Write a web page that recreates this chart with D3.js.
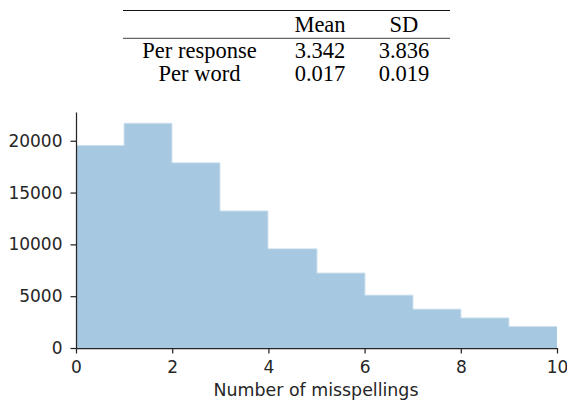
<!DOCTYPE html>
<html><head><meta charset="utf-8">
<script src="https://cdn.jsdelivr.net/npm/d3@7"></script>
<style>body{margin:0;background:#fff}svg{display:block}</style>
</head><body>
<script>
// Data
const binEdges = [0,1,2,3,4,5,6,7,8,9,10];
const counts = [19550, 21690, 17880, 13230, 9580, 7240, 5100, 3750, 2910, 2080];
const xTicks = [0,2,4,6,8,10];
const yTicks = [0,5000,10000,15000,20000];
const tableHeader = ["", "Mean", "SD"];
const rowLabels = ["Per response", "Per word"];
const meanValues = ["3.342", "0.017"];
const sdValues = ["3.836", "0.019"];
const xLabel = "Number of misspellings";

(function(){
const W = 567, H = 401;
const svg = d3.select("body").append("svg").attr("width", W).attr("height", H);

const mLeft = 76, mRight = 557, mTop = 112, mBottom = 348;
const x = d3.scaleLinear().domain([0,10]).range([mLeft, mRight]);
const yMax = d3.max(counts) * 1.05;
const y = d3.scaleLinear().domain([0, yMax]).range([mBottom, mTop]);

// Bars
const bins = counts.map((c,i) => ({x0: binEdges[i], x1: binEdges[i+1], c}));
svg.append("g").selectAll("rect").data(bins).join("rect")
  .attr("x", d => Math.round(x(d.x0)))
  .attr("width", d => Math.round(x(d.x1)) - Math.round(x(d.x0)))
  .attr("y", d => y(d.c))
  .attr("height", d => y(0) - y(d.c))
  .attr("shape-rendering", "crispEdges")
  .attr("fill", "#a6c8e0");

// light step outline (matplotlib edge)
const stepPts = [];
bins.forEach(d => { stepPts.push([Math.round(x(d.x0)), y(d.c)]); stepPts.push([Math.round(x(d.x1)), y(d.c)]); });
svg.append("path").attr("d", d3.line()(stepPts)).attr("fill", "none")
  .attr("stroke", "#d3e4f0").attr("stroke-width", 1);

const textColor = "#262626";
const font = "'DejaVu Sans', sans-serif";

const xAxis = svg.append("g").attr("transform", `translate(0,${mBottom})`)
  .call(d3.axisBottom(x).tickValues(xTicks).tickFormat(d3.format("d")).tickSize(5.5).tickSizeOuter(0).tickPadding(7.5));
const yAxis = svg.append("g").attr("transform", `translate(${mLeft},0)`)
  .call(d3.axisLeft(y).tickValues(yTicks).tickFormat(d3.format("d")).tickSize(5.5).tickSizeOuter(0).tickPadding(8));
[xAxis, yAxis].forEach(g => {
  g.selectAll("path.domain").attr("stroke", textColor).attr("stroke-width", 1.25);
  g.selectAll(".tick line").attr("stroke", textColor).attr("stroke-width", 1.25);
  g.selectAll(".tick text").attr("fill", textColor).style("font-family", font).style("font-size", "17px");
});

svg.append("text").attr("x", (mLeft+mRight)/2 - 0.5).attr("y", 395.5)
  .attr("text-anchor", "middle").attr("fill", textColor)
  .style("font-family", font).style("font-size", "17.4px").text(xLabel);

// Table
const tfont = "'Liberation Serif', 'Times New Roman', serif";
const colX = [199.5, 320, 404];
const rule = (yy, w) => svg.append("line").attr("x1", 123).attr("x2", 450).attr("y1", yy).attr("y2", yy)
  .attr("stroke", "#111").attr("stroke-width", w);
rule(10.5, 1.2);
rule(38.3, 0.8);
const tg = svg.append("g").style("font-family", tfont).style("font-size", "22.5px").attr("fill", "#000");
tableHeader.forEach((h,i) => { if (h) tg.append("text").attr("x", colX[i]).attr("y", 31.5).attr("text-anchor","middle").text(h); });
const rowY = [58, 81];
rowLabels.forEach((r,i) => {
  tg.append("text").attr("x", colX[0]).attr("y", rowY[i]).attr("text-anchor","middle").text(r);
  tg.append("text").attr("x", colX[1]).attr("y", rowY[i]).attr("text-anchor","middle").text(meanValues[i]);
  tg.append("text").attr("x", colX[2]).attr("y", rowY[i]).attr("text-anchor","middle").text(sdValues[i]);
});
})();
</script>
</body></html>
